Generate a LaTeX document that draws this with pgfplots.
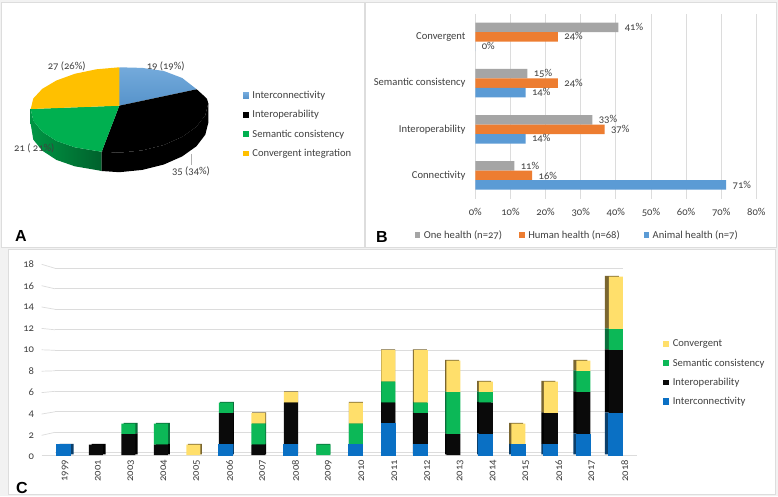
\documentclass[border=0pt]{standalone}
\usepackage{fontspec}
\setmainfont{Carlito}[Numbers=OldStyle]
\newfontfamily\letterfont{Liberation Sans}
\usepackage{pgfplots}
\usepackage{pgfplotstable}
\pgfplotsset{compat=1.18}

\definecolor{txt}{HTML}{404040}
\definecolor{gridc}{HTML}{DCDCDC}
\definecolor{frame}{HTML}{DDDDDD}
\definecolor{pblue}{HTML}{5B9BD5}
\definecolor{pgreen}{HTML}{00B050}
\definecolor{pyellow}{HTML}{FFC000}
\definecolor{bgrey}{HTML}{A5A5A5}
\definecolor{borange}{HTML}{ED7D31}
\definecolor{cblue}{HTML}{0A70C4}
\definecolor{cblack}{HTML}{0A0A0A}
\definecolor{cgreen}{HTML}{0CB857}
\definecolor{cyellow}{HTML}{FFDF6B}
\definecolor{sblue}{HTML}{0B3F6B}
\definecolor{sgreen}{HTML}{0A6E3A}
\definecolor{syellow}{HTML}{7A6630}

\tikzset{
  tx/.style={font=\fontsize{10.6}{12}\selectfont, text=txt},
  letter/.style={font=\letterfont\fontsize{16}{16}\selectfont\bfseries, inner sep=0pt},
}
\pgfplotsset{
  /pgf/number format/assume math mode=true,
  sq/.style={legend image code/.code={\fill[##1] (0pt,-2.8pt) rectangle (5.6pt,2.8pt); \path (7.2pt,0pt);}},
}

% panel B: shares by sector
\pgfplotstableread{
pos one human animal
0 11.1 16.2 71.4
1 33.3 36.8 14.3
2 14.8 23.5 14.3
3 40.7 23.5 0
}\sectors

% panel C: publications per year; i = slot, xs = slot of the shifted side face
\pgfplotstableread{
year i xs inter oper sem conv
1999 0 0.102 1 0 0 0
2001 1 1.088 0 1 0 0
2003 2 2.075 0 2 1 0
2004 3 3.062 0 1 2 0
2005 4 4.049 0 0 0 1
2006 5 5.036 1 3 1 0
2007 6 6.023 0 1 2 1
2008 7 7.010 1 4 0 1
2009 8 8.000 0 0 1 0
2010 9 9.000 1 0 2 2
2011 10 9.995 3 2 2 3
2012 11 10.975 1 3 1 5
2013 12 11.960 0 2 4 3
2014 13 12.950 2 3 1 1
2015 14 13.935 1 0 0 2
2016 15 14.925 1 3 0 3
2017 16 15.910 2 4 2 1
2018 17 16.880 4 6 2 5
}\years

\begin{document}
\begin{tikzpicture}
\path[use as bounding box] (0pt,0pt) rectangle (778pt,496pt);
\fill[white!95!black] (0pt,0pt) rectangle (778pt,496pt);
\filldraw[fill=white,draw=frame] (1.5pt,249pt) rectangle (364pt,494pt);
\filldraw[fill=white,draw=frame] (365.5pt,249pt) rectangle (775.7pt,494pt);
\filldraw[fill=white,draw=frame] (8.3pt,1.7pt) rectangle (775pt,247pt);

% canvas in reference pixels: pie, panel letters, tick stubs
\begin{axis}[
    at={(0pt,0pt)}, anchor=south west, scale only axis,
    width=778pt, height=496pt,
    xmin=0, xmax=778, ymin=-496, ymax=0,
    hide axis, clip=false, sq,
    legend style={at={(243/778,1-89/496)}, anchor=north west, draw=none, fill=none,
      inner sep=0pt, row sep=6.4pt, tx},
    legend cell align=left,
  ]
  \addplot[forget plot, draw=none, left color=pgreen!85!black, right color=pgreen!55!black] coordinates {
    (30.7,-109)(33.3,-120.6)(42.2,-131.6)(56.4,-140.9)(74.8,-147.3)(96.3,-150.9)(101.7,-151.7)
    (101.7,-171)(96.3,-170)(74.8,-166.3)(56.4,-159.9)(42.2,-150.6)(33.3,-139.6)(30.7,-124)} -- cycle;
  \addplot[forget plot, draw=none, fill=black] coordinates {
    (208.3,-103.3)(205.3,-115.2)(196.4,-126.8)(182.2,-136.9)(163.8,-145)(142.3,-150.4)(119.3,-152.7)(101.7,-151.7)
    (101.7,-171)(119.3,-172.2)(142.3,-169.9)(163.8,-164.5)(182.2,-156.4)(196.4,-146.3)(205.3,-134.7)(208.3,-122.8)} -- cycle;
  \addplot[draw=none, top color=pblue!85!white, bottom color=pblue!95!black] coordinates {
    (119.3,-105.7)(119.3,-67.3)(142.3,-67.9)(163.8,-71)(182.2,-78)(196.7,-89.3)} -- cycle;
  \addlegendentry{Interconnectivity}
  \addplot[draw=none, fill=black] coordinates {
    (119.3,-105.7)(196.7,-89.3)(203,-95)(207,-99)(208.3,-103.3)(205.3,-115.2)(196.4,-126.8)(182.2,-136.9)
    (163.8,-145)(142.3,-150.4)(119.3,-152.7)(101.7,-151.7)} -- cycle;
  \addlegendentry{Interoperability}
  \addplot[draw=none, fill=pgreen] coordinates {
    (119.3,-105.7)(101.7,-151.7)(96.3,-150.9)(74.8,-147.3)(56.4,-140.9)(42.2,-131.6)(33.3,-120.6)(30.7,-109)} -- cycle;
  \addlegendentry{Semantic consistency}
  \addplot[draw=none, fill=pyellow] coordinates {
    (119.3,-105.7)(30.7,-109)(33.3,-98.5)(42.2,-88.9)(56.4,-80.5)(74.8,-73.8)(96.3,-69.3)(119.3,-67.3)} -- cycle;
  \addlegendentry{Convergent integration}
  \addplot[forget plot, gridc!80!black, line width=.5pt] coordinates {(191.7,-154)(191.7,-165)};

  \node[tx] at (axis cs:165.7,-66.7) {19 (19\%)};
  \node[tx] at (axis cs:66.7,-66) {27 (26\%)};
  \node[tx] at (axis cs:34.3,-148.7) {21 ( 21\%)};
  \node[tx] at (axis cs:191,-171.7) {35 (34\%)};

  \node[letter] at (axis cs:21,-236) {A};
  \node[letter] at (axis cs:382,-237) {B};
  \node[letter] at (axis cs:22,-488) {C};

  % slanted stubs from the tick labels to the back wall, and the floor
  \addplot[forget plot, gridc, line width=.7pt] coordinates {(41.7,-435.3)(55,-432.3)};
  \addplot[forget plot, gridc, line width=.7pt] coordinates {(41.7,-414)(55,-411.8)};
  \addplot[forget plot, gridc, line width=.7pt] coordinates {(41.7,-392.6)(55,-391.3)};
  \addplot[forget plot, gridc, line width=.7pt] coordinates {(41.7,-371.2)(55,-370.8)};
  \addplot[forget plot, gridc, line width=.7pt] coordinates {(41.7,-349.8)(55,-350.3)};
  \addplot[forget plot, gridc, line width=.7pt] coordinates {(41.7,-328.4)(55,-329.8)};
  \addplot[forget plot, gridc, line width=.7pt] coordinates {(41.7,-307)(55,-309.3)};
  \addplot[forget plot, gridc, line width=.7pt] coordinates {(41.7,-285.7)(55,-288.8)};
  \addplot[forget plot, gridc, line width=.7pt] coordinates {(41.7,-264.3)(55,-268.3)};
  \addplot[forget plot, gridc, line width=.8pt] coordinates {(41.7,-455.5)(636.7,-455.5)};
\end{axis}

% panel B
\begin{axis}[
    at={(475.3pt,297.4pt)}, anchor=south west, scale only axis,
    width=281pt, height=184.9pt,
    xbar, bar width=9.5pt, sq,
    xmin=0, xmax=80, ymin=-0.5, ymax=3.5,
    xtick={0,10,...,80}, xticklabels={0\%,10\%,20\%,30\%,40\%,50\%,60\%,70\%,80\%},
    ytick={0,1,2,3}, yticklabels={Connectivity,Interoperability,Semantic consistency,Convergent},
    xmajorgrids, grid style={gridc, line width=.7pt},
    axis line style={draw=none}, tick style={draw=none},
    tick label style={tx},
    xticklabel style={yshift=-6.5pt},
    yticklabel style={xshift=-2pt},
    nodes near coords={\pgfmathprintnumber[fixed,precision=0]{\pgfplotspointmeta}\%},
    every node near coord/.append style={tx, anchor=west, xshift=3pt},
    legend style={at={(-60.8/281,-36.5/184.9)}, anchor=west, draw=none, fill=none,
      inner sep=0pt, legend columns=3, tx,
      /tikz/column 2/.style={column sep=15pt}, /tikz/column 4/.style={column sep=21.7pt}},
    legend cell align=left,
  ]
  \addplot[bar shift=9.5pt, draw=none, fill=bgrey] table[x=one,y=pos] {\sectors};
  \addlegendentry{One health (n=27)}
  \addplot[bar shift=0pt, draw=none, fill=borange] table[x=human,y=pos] {\sectors};
  \addlegendentry{Human health (n=68)}
  \addplot[bar shift=-9.5pt, draw=none, fill=pblue] table[x=animal,y=pos] {\sectors};
  \addlegendentry{Animal health (n=7)}
\end{axis}

% panel C: back wall with its grid
\begin{axis}[
    at={(55pt,43.2pt)}, anchor=south west, scale only axis,
    width=568pt, height=184.5pt,
    xmin=0, xmax=1, ymin=0, ymax=18,
    xtick=\empty, ytick={0,2,...,18}, yticklabels={},
    ymajorgrids, grid style={gridc, line width=.7pt},
    axis line style={draw=none}, tick style={draw=none},
  ]
\end{axis}

% panel C: tick labels
\begin{axis}[
    at={(44.54pt,39.3pt)}, anchor=south west, scale only axis,
    width=592.6pt, height=192.4pt,
    xmin=-0.5, xmax=17.5, ymin=0, ymax=18,
    xtick={0,...,17},
    xticklabels={1999,2001,2003,2004,2005,2006,2007,2008,2009,2010,2011,2012,2013,2014,2015,2016,2017,2018},
    ytick={0,2,...,18},
    axis line style={draw=none}, tick style={draw=none},
    tick label style={tx},
    xticklabel style={rotate=90, anchor=east, yshift=-4pt},
    yticklabel style={xshift=-7pt},
  ]
\end{axis}

% panel C: side faces, shifted slots under the front faces
\begin{axis}[
    at={(47.05pt,41.6pt)}, anchor=south west, scale only axis,
    width=585pt, height=189pt,
    ybar stacked, bar width=14pt,
    xmin=-0.5, xmax=17.5, ymin=0, ymax=18,
    hide axis,
  ]
  \addplot[draw=none, fill=sblue] table[x=xs,y=inter] {\years};
  \addplot[draw=none, fill=black] table[x=xs,y=oper] {\years};
  \addplot[draw=none, fill=sgreen] table[x=xs,y=sem] {\years};
  \addplot[draw=none, fill=syellow] table[x=xs,y=conv] {\years};
\end{axis}

% panel C: front faces
\begin{axis}[
    at={(47.05pt,41pt)}, anchor=south west, scale only axis,
    width=585pt, height=189pt,
    ybar stacked, bar width=14pt, sq, clip=false,
    xmin=-0.5, xmax=17.5, ymin=0, ymax=18,
    axis line style={draw=none}, tick style={draw=none},
    xtick=\empty, ytick=\empty,
    reverse legend,
    legend style={at={(615.3/585,1-71.7/189)}, anchor=north west, draw=none, fill=none,
      inner sep=0pt, row sep=6.4pt, tx},
    legend cell align=left,
  ]
  \addplot[draw=cblue, line width=1pt, fill=cblue] table[x=i,y=inter] {\years};
  \addlegendentry{Interconnectivity}
  \addplot[draw=none, fill=cblack] table[x=i,y=oper] {\years};
  \addlegendentry{Interoperability}
  \addplot[draw=none, fill=cgreen] table[x=i,y=sem] {\years};
  \addlegendentry{Semantic consistency}
  \addplot[draw=none, fill=cyellow] table[x=i,y=conv] {\years};
  \addlegendentry{Convergent}
\end{axis}
\end{tikzpicture}
\end{document}
